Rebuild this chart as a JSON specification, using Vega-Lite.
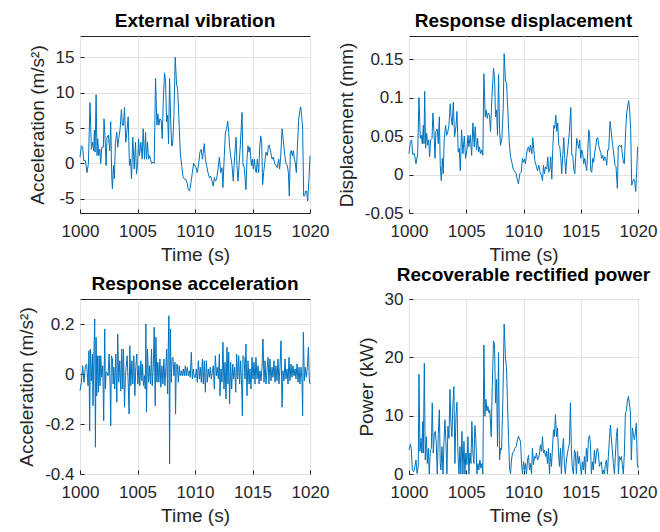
{
  "$schema": "https://vega.github.io/schema/vega-lite/v6.json",
  "padding": {"left": 17, "top": 11, "right": 0, "bottom": 0},
  "background": "white",
  "config": {
    "font": "Liberation Sans",
    "view": {"stroke": "#262626", "strokeWidth": 1},
    "axis": {"domain": false, "grid": true, "gridColor": "#e2e2e2", "gridWidth": 1, "labelFontSize": 17, "labelColor": "#262626", "titleFontSize": 19, "titleFontWeight": "normal", "titleColor": "#262626", "ticks": true, "tickSize": -4, "tickColor": "#262626", "labelFlush": false, "labelOverlap": false, "labelExpr": "'' + datum.value"},
    "axisX": {"labelPadding": 14, "titlePadding": 6},
    "axisY": {"labelPadding": 10, "titlePadding": 8},
    "title": {"fontSize": 19, "fontWeight": "bold", "color": "#000000", "offset": 5, "frame": "group"}
  },
  "datasets": {
    "ext": [
      {"t":1000.00,"v":0.9},{"t":1000.12,"v":2.5},{"t":1000.23,"v":2.3},{"t":1000.32,"v":0.4},{"t":1000.47,"v":0.4},{"t":1000.61,"v":-1.3},{"t":1000.73,"v":0},{"t":1000.87,"v":8.6},{"t":1000.99,"v":2.0},{"t":1001.10,"v":3.0},{"t":1001.19,"v":1.8},{"t":1001.25,"v":4.7},{"t":1001.31,"v":1.6},{"t":1001.40,"v":9.7},{"t":1001.48,"v":1.1},{"t":1001.54,"v":3.5},{"t":1001.63,"v":1.1},{"t":1001.72,"v":2.0},{"t":1001.80,"v":0},{"t":1001.89,"v":2.3},{"t":1002.03,"v":2.3},{"t":1002.09,"v":6.3},{"t":1002.18,"v":3.5},{"t":1002.27,"v":-0.3},{"t":1002.35,"v":3.7},{"t":1002.47,"v":4.0},{"t":1002.59,"v":1.8},{"t":1002.67,"v":5.9},{"t":1002.76,"v":-1.8},{"t":1002.82,"v":-3.6},{"t":1002.91,"v":-0.3},{"t":1002.99,"v":-2.2},{"t":1003.08,"v":3.0},{"t":1003.20,"v":4.4},{"t":1003.28,"v":2.3},{"t":1003.37,"v":3.5},{"t":1003.49,"v":4.9},{"t":1003.60,"v":7.6},{"t":1003.69,"v":5.4},{"t":1003.78,"v":5.4},{"t":1003.87,"v":7.9},{"t":1003.98,"v":3.0},{"t":1004.10,"v":4.9},{"t":1004.19,"v":6.6},{"t":1004.30,"v":-0.3},{"t":1004.39,"v":0.6},{"t":1004.48,"v":-2.2},{"t":1004.59,"v":3.7},{"t":1004.71,"v":-0.8},{"t":1004.83,"v":3.0},{"t":1004.91,"v":-1.5},{"t":1005.00,"v":-0.3},{"t":1005.09,"v":3.5},{"t":1005.17,"v":1.1},{"t":1005.29,"v":3.0},{"t":1005.41,"v":0.6},{"t":1005.49,"v":4.9},{"t":1005.61,"v":0.6},{"t":1005.70,"v":4.4},{"t":1005.78,"v":0.6},{"t":1005.87,"v":3.0},{"t":1005.96,"v":0.6},{"t":1006.05,"v":1.1},{"t":1006.13,"v":0.6},{"t":1006.22,"v":0},{"t":1006.34,"v":0.2},{"t":1006.45,"v":0},{"t":1006.57,"v":12.0},{"t":1006.69,"v":5.4},{"t":1006.77,"v":7.0},{"t":1006.86,"v":5.4},{"t":1006.95,"v":6.3},{"t":1007.06,"v":6.1},{"t":1007.15,"v":3.5},{"t":1007.24,"v":8.7},{"t":1007.35,"v":12.8},{"t":1007.44,"v":11.6},{"t":1007.53,"v":5.9},{"t":1007.62,"v":6.8},{"t":1007.70,"v":2.8},{"t":1007.79,"v":12.0},{"t":1007.88,"v":6.3},{"t":1007.97,"v":2.5},{"t":1008.05,"v":2.5},{"t":1008.17,"v":6.8},{"t":1008.28,"v":15.0},{"t":1008.40,"v":11.1},{"t":1008.49,"v":10.6},{"t":1008.60,"v":6.3},{"t":1008.72,"v":1.6},{"t":1008.84,"v":-0.3},{"t":1008.95,"v":-1.8},{"t":1009.07,"v":-2.2},{"t":1009.19,"v":-2.2},{"t":1009.30,"v":-2.7},{"t":1009.42,"v":-3.7},{"t":1009.53,"v":-3.9},{"t":1009.65,"v":-2.7},{"t":1009.77,"v":-1.3},{"t":1009.88,"v":0},{"t":1010.09,"v":-0.6},{"t":1010.20,"v":-1.3},{"t":1010.32,"v":0},{"t":1010.43,"v":1.6},{"t":1010.55,"v":2.0},{"t":1010.64,"v":0.6},{"t":1010.72,"v":1.6},{"t":1010.81,"v":2.8},{"t":1010.90,"v":0.6},{"t":1011.01,"v":-0.3},{"t":1011.13,"v":-1.3},{"t":1011.25,"v":-2.0},{"t":1011.36,"v":-1.8},{"t":1011.48,"v":-2.5},{"t":1011.59,"v":-3.2},{"t":1011.68,"v":-2.0},{"t":1011.77,"v":-2.5},{"t":1011.88,"v":-2.2},{"t":1012.00,"v":-0.8},{"t":1012.12,"v":0.9},{"t":1012.23,"v":-1.3},{"t":1012.35,"v":-0.6},{"t":1012.43,"v":-3.4},{"t":1012.52,"v":0.1},{"t":1012.64,"v":4.4},{"t":1012.75,"v":4.9},{"t":1012.84,"v":6.0},{"t":1012.93,"v":4.4},{"t":1013.01,"v":2.3},{"t":1013.10,"v":1.1},{"t":1013.22,"v":-0.3},{"t":1013.33,"v":-2.5},{"t":1013.45,"v":1.1},{"t":1013.57,"v":3.7},{"t":1013.65,"v":-0.3},{"t":1013.74,"v":-2.5},{"t":1013.83,"v":-0.3},{"t":1013.94,"v":2.5},{"t":1014.09,"v":7.2},{"t":1014.17,"v":-0.3},{"t":1014.26,"v":-0.3},{"t":1014.35,"v":-2.0},{"t":1014.43,"v":-3.7},{"t":1014.52,"v":0.6},{"t":1014.61,"v":2.5},{"t":1014.70,"v":1.6},{"t":1014.78,"v":2.3},{"t":1014.90,"v":-0.3},{"t":1014.99,"v":0.6},{"t":1015.07,"v":-0.8},{"t":1015.16,"v":0.6},{"t":1015.25,"v":-0.8},{"t":1015.33,"v":-1.3},{"t":1015.42,"v":0.6},{"t":1015.54,"v":-1.3},{"t":1015.62,"v":2.0},{"t":1015.71,"v":3.9},{"t":1015.80,"v":3.0},{"t":1015.88,"v":-3.0},{"t":1015.97,"v":-1.3},{"t":1016.06,"v":0},{"t":1016.17,"v":1.6},{"t":1016.29,"v":1.1},{"t":1016.38,"v":2.5},{"t":1016.46,"v":2.6},{"t":1016.58,"v":1.6},{"t":1016.70,"v":0.6},{"t":1016.81,"v":0.9},{"t":1016.93,"v":0},{"t":1017.04,"v":-0.3},{"t":1017.16,"v":-0.6},{"t":1017.28,"v":0.6},{"t":1017.36,"v":-0.8},{"t":1017.45,"v":0.9},{"t":1017.57,"v":4.9},{"t":1017.68,"v":3.2},{"t":1017.80,"v":1.3},{"t":1017.91,"v":0},{"t":1018.03,"v":-0.3},{"t":1018.12,"v":-1.3},{"t":1018.20,"v":-4.6},{"t":1018.29,"v":1.6},{"t":1018.38,"v":1.8},{"t":1018.46,"v":1.1},{"t":1018.55,"v":1.8},{"t":1018.64,"v":0.6},{"t":1018.72,"v":0.1},{"t":1018.81,"v":-1.3},{"t":1018.93,"v":3.2},{"t":1019.01,"v":6.1},{"t":1019.10,"v":7.3},{"t":1019.19,"v":8.0},{"t":1019.28,"v":6.6},{"t":1019.36,"v":4.9},{"t":1019.45,"v":-4.6},{"t":1019.54,"v":-4.6},{"t":1019.62,"v":-3.9},{"t":1019.71,"v":-3.9},{"t":1019.80,"v":-5.3},{"t":1019.91,"v":-2.2},{"t":1020.00,"v":1.1}
    ],
    "disp": [
      {"t":1000.00,"v":0.027},{"t":1000.12,"v":0.043},{"t":1000.23,"v":0.045},{"t":1000.32,"v":0.026},{"t":1000.47,"v":0.027},{"t":1000.61,"v":0.014},{"t":1000.76,"v":0.027},{"t":1000.87,"v":0.100},{"t":1000.99,"v":0.047},{"t":1001.08,"v":0.051},{"t":1001.16,"v":0.040},{"t":1001.25,"v":0.064},{"t":1001.31,"v":0.040},{"t":1001.37,"v":0.108},{"t":1001.45,"v":0.034},{"t":1001.54,"v":0.054},{"t":1001.63,"v":0.038},{"t":1001.72,"v":0.045},{"t":1001.80,"v":0.023},{"t":1001.89,"v":0.045},{"t":1002.01,"v":0.047},{"t":1002.09,"v":0.080},{"t":1002.18,"v":0.056},{"t":1002.27,"v":0.021},{"t":1002.35,"v":0.056},{"t":1002.47,"v":0.059},{"t":1002.56,"v":0.040},{"t":1002.65,"v":0.075},{"t":1002.73,"v":0.012},{"t":1002.82,"v":-0.008},{"t":1002.91,"v":0.021},{"t":1002.99,"v":0.001},{"t":1003.08,"v":0.047},{"t":1003.20,"v":0.064},{"t":1003.28,"v":0.051},{"t":1003.37,"v":0.054},{"t":1003.49,"v":0.064},{"t":1003.60,"v":0.092},{"t":1003.69,"v":0.073},{"t":1003.78,"v":0.064},{"t":1003.87,"v":0.094},{"t":1003.98,"v":0.049},{"t":1004.10,"v":0.062},{"t":1004.19,"v":0.082},{"t":1004.30,"v":0.029},{"t":1004.39,"v":0.034},{"t":1004.48,"v":0.005},{"t":1004.59,"v":0.058},{"t":1004.71,"v":0.027},{"t":1004.83,"v":0.050},{"t":1004.94,"v":0.021},{"t":1005.06,"v":0.032},{"t":1005.15,"v":0.051},{"t":1005.23,"v":0.036},{"t":1005.35,"v":0.051},{"t":1005.47,"v":0.025},{"t":1005.58,"v":0.067},{"t":1005.70,"v":0.036},{"t":1005.78,"v":0.062},{"t":1005.90,"v":0.032},{"t":1005.99,"v":0.047},{"t":1006.08,"v":0.029},{"t":1006.16,"v":0.036},{"t":1006.25,"v":0.027},{"t":1006.37,"v":0.032},{"t":1006.45,"v":0.025},{"t":1006.54,"v":0.131},{"t":1006.66,"v":0.075},{"t":1006.74,"v":0.084},{"t":1006.83,"v":0.073},{"t":1006.92,"v":0.080},{"t":1007.03,"v":0.077},{"t":1007.12,"v":0.056},{"t":1007.24,"v":0.100},{"t":1007.38,"v":0.138},{"t":1007.47,"v":0.126},{"t":1007.56,"v":0.075},{"t":1007.65,"v":0.084},{"t":1007.73,"v":0.051},{"t":1007.82,"v":0.130},{"t":1007.91,"v":0.058},{"t":1007.99,"v":0.038},{"t":1008.11,"v":0.047},{"t":1008.23,"v":0.086},{"t":1008.31,"v":0.157},{"t":1008.43,"v":0.121},{"t":1008.52,"v":0.119},{"t":1008.63,"v":0.084},{"t":1008.75,"v":0.043},{"t":1008.87,"v":0.023},{"t":1008.98,"v":0.016},{"t":1009.10,"v":0.007},{"t":1009.22,"v":0.004},{"t":1009.33,"v":0.003},{"t":1009.45,"v":-0.006},{"t":1009.56,"v":-0.012},{"t":1009.68,"v":0.001},{"t":1009.80,"v":0.003},{"t":1009.91,"v":0.021},{"t":1010.00,"v":0.016},{"t":1010.09,"v":0.020},{"t":1010.17,"v":0.014},{"t":1010.26,"v":0.025},{"t":1010.35,"v":0.034},{"t":1010.44,"v":0.036},{"t":1010.52,"v":0.029},{"t":1010.61,"v":0.038},{"t":1010.73,"v":0.027},{"t":1010.81,"v":0.048},{"t":1010.90,"v":0.032},{"t":1010.99,"v":0.018},{"t":1011.10,"v":0.012},{"t":1011.22,"v":0.005},{"t":1011.34,"v":0.012},{"t":1011.45,"v":0.003},{"t":1011.57,"v":-0.001},{"t":1011.66,"v":-0.008},{"t":1011.74,"v":0.012},{"t":1011.83,"v":0.001},{"t":1011.92,"v":0.010},{"t":1012.03,"v":0.007},{"t":1012.12,"v":0.023},{"t":1012.21,"v":0.003},{"t":1012.30,"v":0.007},{"t":1012.38,"v":0.023},{"t":1012.47,"v":-0.006},{"t":1012.56,"v":0.034},{"t":1012.65,"v":0.064},{"t":1012.73,"v":0.060},{"t":1012.82,"v":0.077},{"t":1012.91,"v":0.056},{"t":1012.99,"v":0.067},{"t":1013.08,"v":0.038},{"t":1013.17,"v":0.036},{"t":1013.26,"v":0.021},{"t":1013.34,"v":0.001},{"t":1013.43,"v":0.025},{"t":1013.52,"v":0.048},{"t":1013.60,"v":0.021},{"t":1013.69,"v":0.001},{"t":1013.78,"v":0.021},{"t":1013.90,"v":0.038},{"t":1014.01,"v":0.056},{"t":1014.13,"v":0.087},{"t":1014.22,"v":0.025},{"t":1014.30,"v":0.025},{"t":1014.39,"v":0.007},{"t":1014.48,"v":0.001},{"t":1014.56,"v":0.023},{"t":1014.65,"v":0.047},{"t":1014.74,"v":0.040},{"t":1014.83,"v":0.034},{"t":1014.91,"v":0.045},{"t":1015.00,"v":0.021},{"t":1015.09,"v":0.032},{"t":1015.17,"v":0.027},{"t":1015.26,"v":0.014},{"t":1015.35,"v":0.021},{"t":1015.44,"v":0.012},{"t":1015.52,"v":0.005},{"t":1015.61,"v":0.029},{"t":1015.70,"v":0.058},{"t":1015.78,"v":0.051},{"t":1015.87,"v":0.005},{"t":1015.96,"v":0.003},{"t":1016.05,"v":0.021},{"t":1016.13,"v":0.016},{"t":1016.22,"v":0.029},{"t":1016.31,"v":0.036},{"t":1016.40,"v":0.047},{"t":1016.48,"v":0.048},{"t":1016.57,"v":0.038},{"t":1016.66,"v":0.032},{"t":1016.74,"v":0.029},{"t":1016.83,"v":0.021},{"t":1016.92,"v":0.025},{"t":1017.01,"v":0.018},{"t":1017.09,"v":0.023},{"t":1017.18,"v":0.021},{"t":1017.27,"v":0.012},{"t":1017.35,"v":0.032},{"t":1017.44,"v":0.032},{"t":1017.56,"v":0.069},{"t":1017.67,"v":0.054},{"t":1017.79,"v":0.038},{"t":1017.91,"v":0.023},{"t":1017.99,"v":0.012},{"t":1018.08,"v":0.010},{"t":1018.20,"v":-0.018},{"t":1018.28,"v":0.036},{"t":1018.37,"v":0.038},{"t":1018.46,"v":0.036},{"t":1018.55,"v":0.038},{"t":1018.63,"v":0.027},{"t":1018.72,"v":0.016},{"t":1018.81,"v":0.014},{"t":1018.92,"v":0.056},{"t":1019.01,"v":0.080},{"t":1019.10,"v":0.089},{"t":1019.19,"v":0.096},{"t":1019.27,"v":0.082},{"t":1019.36,"v":0.060},{"t":1019.45,"v":-0.014},{"t":1019.53,"v":-0.010},{"t":1019.62,"v":-0.006},{"t":1019.71,"v":-0.008},{"t":1019.80,"v":-0.022},{"t":1019.88,"v":0.003},{"t":1019.97,"v":0.036}
    ],
    "racc": [
      {"t":1000.00,"v":-0.067},{"t":1000.12,"v":-0.033},{"t":1000.23,"v":0.033},{"t":1000.35,"v":-0.033},{"t":1000.47,"v":0.033},{"t":1000.58,"v":0.040},{"t":1000.70,"v":-0.047},{"t":1000.78,"v":0.093},{"t":1000.84,"v":-0.227},{"t":1000.90,"v":0.100},{"t":1000.99,"v":-0.027},{"t":1001.08,"v":0.080},{"t":1001.13,"v":-0.127},{"t":1001.22,"v":0.100},{"t":1001.28,"v":0.220},{"t":1001.34,"v":-0.293},{"t":1001.40,"v":0.147},{"t":1001.45,"v":-0.087},{"t":1001.51,"v":0.073},{"t":1001.60,"v":-0.073},{"t":1001.66,"v":0.073},{"t":1001.74,"v":-0.047},{"t":1001.80,"v":0.073},{"t":1001.89,"v":-0.013},{"t":1001.98,"v":0.033},{"t":1002.06,"v":-0.187},{"t":1002.15,"v":0.180},{"t":1002.21,"v":-0.060},{"t":1002.27,"v":0.007},{"t":1002.35,"v":0.007},{"t":1002.44,"v":-0.007},{"t":1002.53,"v":0.080},{"t":1002.62,"v":-0.047},{"t":1002.67,"v":-0.207},{"t":1002.73,"v":0.073},{"t":1002.82,"v":0.060},{"t":1002.88,"v":-0.040},{"t":1002.94,"v":0.027},{"t":1003.02,"v":-0.060},{"t":1003.11,"v":0.080},{"t":1003.20,"v":-0.113},{"t":1003.28,"v":0.160},{"t":1003.37,"v":-0.033},{"t":1003.46,"v":0.053},{"t":1003.55,"v":-0.067},{"t":1003.63,"v":0.100},{"t":1003.72,"v":-0.060},{"t":1003.78,"v":0.100},{"t":1003.87,"v":-0.133},{"t":1003.95,"v":-0.007},{"t":1004.01,"v":0.027},{"t":1004.10,"v":0.073},{"t":1004.19,"v":-0.033},{"t":1004.27,"v":-0.160},{"t":1004.33,"v":0.113},{"t":1004.42,"v":-0.047},{"t":1004.51,"v":0.053},{"t":1004.59,"v":-0.040},{"t":1004.68,"v":0.073},{"t":1004.77,"v":-0.087},{"t":1004.85,"v":0.027},{"t":1004.94,"v":0.080},{"t":1005.03,"v":-0.040},{"t":1005.12,"v":0.033},{"t":1005.20,"v":-0.047},{"t":1005.29,"v":0.053},{"t":1005.38,"v":-0.027},{"t":1005.44,"v":0.040},{"t":1005.52,"v":-0.047},{"t":1005.61,"v":-0.007},{"t":1005.67,"v":-0.060},{"t":1005.73,"v":0.200},{"t":1005.78,"v":-0.153},{"t":1005.87,"v":0.100},{"t":1005.96,"v":-0.033},{"t":1006.05,"v":0.033},{"t":1006.13,"v":-0.040},{"t":1006.22,"v":0.100},{"t":1006.28,"v":-0.047},{"t":1006.37,"v":0.027},{"t":1006.45,"v":0.187},{"t":1006.54,"v":-0.127},{"t":1006.60,"v":0.147},{"t":1006.69,"v":-0.033},{"t":1006.77,"v":0.047},{"t":1006.86,"v":-0.033},{"t":1006.95,"v":0.060},{"t":1007.03,"v":-0.053},{"t":1007.12,"v":0.033},{"t":1007.21,"v":-0.040},{"t":1007.30,"v":0.060},{"t":1007.38,"v":-0.047},{"t":1007.47,"v":0.027},{"t":1007.53,"v":0.100},{"t":1007.62,"v":-0.080},{"t":1007.67,"v":0.100},{"t":1007.73,"v":0.233},{"t":1007.79,"v":-0.360},{"t":1007.85,"v":0.180},{"t":1007.94,"v":-0.033},{"t":1008.00,"v":0.060},{"t":1008.08,"v":0.067},{"t":1008.17,"v":-0.007},{"t":1008.26,"v":0.047},{"t":1008.31,"v":-0.160},{"t":1008.37,"v":0.033},{"t":1008.46,"v":0.040},{"t":1008.55,"v":-0.033},{"t":1008.63,"v":0.033},{"t":1008.72,"v":-0.007},{"t":1008.81,"v":0.013},{"t":1008.90,"v":-0.007},{"t":1008.98,"v":0.020},{"t":1009.07,"v":-0.007},{"t":1009.16,"v":0.033},{"t":1009.24,"v":-0.007},{"t":1009.33,"v":0.027},{"t":1009.42,"v":-0.007},{"t":1009.51,"v":0.013},{"t":1009.59,"v":-0.013},{"t":1009.68,"v":0.087},{"t":1009.77,"v":-0.020},{"t":1009.85,"v":0.020},{"t":1009.94,"v":-0.013},{"t":1010.03,"v":-0.013},{"t":1010.12,"v":0.020},{"t":1010.20,"v":-0.033},{"t":1010.29,"v":0.053},{"t":1010.38,"v":-0.020},{"t":1010.46,"v":0.027},{"t":1010.55,"v":-0.033},{"t":1010.64,"v":0.060},{"t":1010.72,"v":-0.040},{"t":1010.81,"v":0.053},{"t":1010.90,"v":-0.073},{"t":1010.99,"v":0.053},{"t":1011.07,"v":-0.033},{"t":1011.16,"v":0.020},{"t":1011.25,"v":-0.013},{"t":1011.33,"v":0.027},{"t":1011.42,"v":-0.020},{"t":1011.51,"v":0.013},{"t":1011.59,"v":0.033},{"t":1011.68,"v":-0.060},{"t":1011.77,"v":0.073},{"t":1011.86,"v":-0.007},{"t":1011.94,"v":0.027},{"t":1012.03,"v":-0.020},{"t":1012.12,"v":0.080},{"t":1012.17,"v":-0.087},{"t":1012.26,"v":0.020},{"t":1012.35,"v":-0.033},{"t":1012.43,"v":0.127},{"t":1012.52,"v":-0.060},{"t":1012.61,"v":0.047},{"t":1012.70,"v":-0.100},{"t":1012.78,"v":0.107},{"t":1012.87,"v":-0.040},{"t":1012.93,"v":0.087},{"t":1013.01,"v":-0.120},{"t":1013.10,"v":0.047},{"t":1013.19,"v":-0.060},{"t":1013.28,"v":0.040},{"t":1013.36,"v":-0.020},{"t":1013.45,"v":0.027},{"t":1013.54,"v":-0.073},{"t":1013.62,"v":0.080},{"t":1013.71,"v":-0.020},{"t":1013.80,"v":0.073},{"t":1013.88,"v":-0.040},{"t":1013.97,"v":0.053},{"t":1014.06,"v":-0.053},{"t":1014.12,"v":-0.167},{"t":1014.17,"v":0.073},{"t":1014.26,"v":0.067},{"t":1014.35,"v":-0.020},{"t":1014.43,"v":0.120},{"t":1014.52,"v":-0.087},{"t":1014.61,"v":0.053},{"t":1014.70,"v":-0.040},{"t":1014.78,"v":0.020},{"t":1014.87,"v":-0.060},{"t":1014.96,"v":0.067},{"t":1015.04,"v":-0.020},{"t":1015.13,"v":0.047},{"t":1015.22,"v":-0.040},{"t":1015.30,"v":0.067},{"t":1015.39,"v":-0.020},{"t":1015.48,"v":0.033},{"t":1015.57,"v":-0.040},{"t":1015.65,"v":0.013},{"t":1015.74,"v":-0.027},{"t":1015.83,"v":0.027},{"t":1015.91,"v":0.140},{"t":1016.00,"v":-0.033},{"t":1016.09,"v":0.053},{"t":1016.17,"v":-0.040},{"t":1016.26,"v":0.013},{"t":1016.35,"v":0.067},{"t":1016.43,"v":-0.040},{"t":1016.52,"v":0.060},{"t":1016.61,"v":-0.027},{"t":1016.70,"v":0.027},{"t":1016.78,"v":-0.013},{"t":1016.87,"v":0.053},{"t":1016.96,"v":-0.033},{"t":1017.04,"v":0.033},{"t":1017.13,"v":-0.027},{"t":1017.22,"v":0.060},{"t":1017.30,"v":-0.040},{"t":1017.39,"v":0.027},{"t":1017.48,"v":0.133},{"t":1017.57,"v":-0.133},{"t":1017.65,"v":0.013},{"t":1017.74,"v":-0.027},{"t":1017.83,"v":0.060},{"t":1017.91,"v":-0.020},{"t":1018.00,"v":0.020},{"t":1018.09,"v":-0.040},{"t":1018.17,"v":0.067},{"t":1018.26,"v":-0.027},{"t":1018.35,"v":0.040},{"t":1018.43,"v":-0.013},{"t":1018.52,"v":0.033},{"t":1018.61,"v":-0.007},{"t":1018.70,"v":0.020},{"t":1018.78,"v":-0.020},{"t":1018.87,"v":0.040},{"t":1018.96,"v":-0.033},{"t":1019.04,"v":0.027},{"t":1019.13,"v":-0.040},{"t":1019.22,"v":0.027},{"t":1019.30,"v":-0.020},{"t":1019.36,"v":-0.167},{"t":1019.42,"v":0.167},{"t":1019.51,"v":-0.027},{"t":1019.59,"v":0.027},{"t":1019.68,"v":-0.013},{"t":1019.77,"v":0.027},{"t":1019.86,"v":0.107},{"t":1019.94,"v":-0.020},{"t":1020.00,"v":-0.040}
    ],
    "pow": [
      {"t":1000.00,"v":4.1},{"t":1000.12,"v":5.1},{"t":1000.20,"v":4.4},{"t":1000.29,"v":0.7},{"t":1000.41,"v":0.4},{"t":1000.52,"v":1.3},{"t":1000.61,"v":2.4},{"t":1000.70,"v":0.1},{"t":1000.81,"v":1.3},{"t":1000.87,"v":17.1},{"t":1000.96,"v":3.9},{"t":1001.05,"v":6.1},{"t":1001.13,"v":3.6},{"t":1001.19,"v":9.0},{"t":1001.25,"v":3.6},{"t":1001.34,"v":19.0},{"t":1001.42,"v":2.4},{"t":1001.51,"v":6.4},{"t":1001.60,"v":1.8},{"t":1001.69,"v":4.4},{"t":1001.77,"v":0},{"t":1001.86,"v":4.1},{"t":1001.95,"v":4.4},{"t":1002.03,"v":12.2},{"t":1002.12,"v":3.6},{"t":1002.21,"v":7.0},{"t":1002.30,"v":7.3},{"t":1002.38,"v":5.3},{"t":1002.47,"v":0},{"t":1002.56,"v":6.8},{"t":1002.65,"v":11.0},{"t":1002.73,"v":1.8},{"t":1002.79,"v":0.7},{"t":1002.88,"v":4.7},{"t":1002.97,"v":0},{"t":1003.05,"v":5.3},{"t":1003.14,"v":9.3},{"t":1003.23,"v":5.3},{"t":1003.31,"v":0},{"t":1003.40,"v":8.2},{"t":1003.49,"v":6.1},{"t":1003.58,"v":14.5},{"t":1003.66,"v":8.8},{"t":1003.75,"v":6.4},{"t":1003.84,"v":12.2},{"t":1003.92,"v":15.0},{"t":1004.01,"v":1.8},{"t":1004.10,"v":9.9},{"t":1004.19,"v":12.3},{"t":1004.27,"v":3.6},{"t":1004.36,"v":0},{"t":1004.45,"v":4.7},{"t":1004.53,"v":0},{"t":1004.62,"v":7.3},{"t":1004.71,"v":0},{"t":1004.80,"v":5.6},{"t":1004.88,"v":0},{"t":1004.97,"v":3.6},{"t":1005.06,"v":1.6},{"t":1005.15,"v":6.4},{"t":1005.23,"v":0},{"t":1005.32,"v":3.6},{"t":1005.41,"v":1.8},{"t":1005.49,"v":9.0},{"t":1005.58,"v":3.6},{"t":1005.67,"v":1.8},{"t":1005.76,"v":8.3},{"t":1005.84,"v":5.9},{"t":1005.93,"v":0},{"t":1006.02,"v":1.8},{"t":1006.10,"v":0.7},{"t":1006.19,"v":2.4},{"t":1006.28,"v":1.0},{"t":1006.37,"v":1.8},{"t":1006.45,"v":0},{"t":1006.54,"v":22.1},{"t":1006.63,"v":9.9},{"t":1006.72,"v":12.8},{"t":1006.80,"v":10.8},{"t":1006.89,"v":11.6},{"t":1006.98,"v":10.5},{"t":1007.06,"v":11.0},{"t":1007.18,"v":6.4},{"t":1007.27,"v":15.0},{"t":1007.38,"v":22.8},{"t":1007.47,"v":22.2},{"t":1007.56,"v":12.2},{"t":1007.65,"v":16.2},{"t":1007.73,"v":4.7},{"t":1007.82,"v":20.8},{"t":1007.91,"v":2.4},{"t":1007.99,"v":4.4},{"t":1008.08,"v":4.1},{"t":1008.20,"v":12.8},{"t":1008.31,"v":25.7},{"t":1008.43,"v":19.7},{"t":1008.52,"v":18.2},{"t":1008.60,"v":12.2},{"t":1008.69,"v":6.4},{"t":1008.78,"v":1.0},{"t":1008.87,"v":0},{"t":1008.95,"v":2.4},{"t":1009.04,"v":3.6},{"t":1009.16,"v":3.9},{"t":1009.24,"v":4.4},{"t":1009.36,"v":4.7},{"t":1009.48,"v":5.9},{"t":1009.56,"v":6.5},{"t":1009.65,"v":6.0},{"t":1009.74,"v":5.6},{"t":1009.83,"v":1.8},{"t":1009.91,"v":0},{"t":1010.00,"v":2.1},{"t":1010.09,"v":0.7},{"t":1010.17,"v":1.8},{"t":1010.26,"v":0},{"t":1010.35,"v":2.4},{"t":1010.44,"v":3.2},{"t":1010.52,"v":0.7},{"t":1010.61,"v":1.8},{"t":1010.70,"v":0},{"t":1010.78,"v":4.4},{"t":1010.87,"v":1.6},{"t":1010.96,"v":3.0},{"t":1011.05,"v":2.7},{"t":1011.13,"v":3.6},{"t":1011.22,"v":2.4},{"t":1011.31,"v":2.7},{"t":1011.40,"v":3.6},{"t":1011.48,"v":5.0},{"t":1011.57,"v":3.9},{"t":1011.66,"v":6.4},{"t":1011.74,"v":3.6},{"t":1011.83,"v":4.1},{"t":1011.92,"v":3.0},{"t":1012.01,"v":3.9},{"t":1012.09,"v":1.8},{"t":1012.18,"v":4.4},{"t":1012.27,"v":0},{"t":1012.35,"v":3.6},{"t":1012.44,"v":1.3},{"t":1012.53,"v":4.4},{"t":1012.62,"v":7.6},{"t":1012.70,"v":6.4},{"t":1012.79,"v":10.2},{"t":1012.88,"v":6.4},{"t":1012.97,"v":7.9},{"t":1013.05,"v":3.9},{"t":1013.14,"v":1.3},{"t":1013.23,"v":4.4},{"t":1013.31,"v":0},{"t":1013.40,"v":4.1},{"t":1013.49,"v":6.1},{"t":1013.58,"v":1.3},{"t":1013.66,"v":0},{"t":1013.75,"v":2.4},{"t":1013.84,"v":3.6},{"t":1013.92,"v":4.4},{"t":1014.01,"v":5.3},{"t":1014.10,"v":12.2},{"t":1014.19,"v":3.6},{"t":1014.27,"v":1.0},{"t":1014.36,"v":0},{"t":1014.45,"v":4.1},{"t":1014.53,"v":3.6},{"t":1014.62,"v":0},{"t":1014.71,"v":3.9},{"t":1014.80,"v":1.8},{"t":1014.88,"v":3.0},{"t":1014.97,"v":1.3},{"t":1015.06,"v":0},{"t":1015.15,"v":2.1},{"t":1015.23,"v":0.7},{"t":1015.32,"v":3.0},{"t":1015.41,"v":0},{"t":1015.49,"v":4.4},{"t":1015.58,"v":2.1},{"t":1015.67,"v":5.9},{"t":1015.76,"v":6.6},{"t":1015.84,"v":5.3},{"t":1015.93,"v":0},{"t":1016.02,"v":2.1},{"t":1016.10,"v":0.7},{"t":1016.19,"v":4.1},{"t":1016.28,"v":1.8},{"t":1016.37,"v":3.6},{"t":1016.45,"v":4.4},{"t":1016.54,"v":3.6},{"t":1016.63,"v":1.3},{"t":1016.72,"v":1.8},{"t":1016.80,"v":2.1},{"t":1016.89,"v":0},{"t":1016.98,"v":0.7},{"t":1017.06,"v":0},{"t":1017.15,"v":1.6},{"t":1017.24,"v":2.4},{"t":1017.33,"v":0},{"t":1017.41,"v":3.0},{"t":1017.50,"v":5.9},{"t":1017.59,"v":8.4},{"t":1017.67,"v":6.1},{"t":1017.76,"v":4.1},{"t":1017.85,"v":1.8},{"t":1017.94,"v":0},{"t":1018.02,"v":3.0},{"t":1018.11,"v":6.4},{"t":1018.20,"v":7.9},{"t":1018.29,"v":0},{"t":1018.37,"v":3.0},{"t":1018.46,"v":2.4},{"t":1018.55,"v":3.0},{"t":1018.63,"v":1.6},{"t":1018.72,"v":0},{"t":1018.81,"v":3.6},{"t":1018.90,"v":10.5},{"t":1018.98,"v":10.8},{"t":1019.07,"v":12.5},{"t":1019.16,"v":13.3},{"t":1019.24,"v":12.2},{"t":1019.33,"v":10.8},{"t":1019.42,"v":2.4},{"t":1019.51,"v":7.9},{"t":1019.59,"v":7.0},{"t":1019.68,"v":5.9},{"t":1019.77,"v":7.0},{"t":1019.85,"v":8.7},{"t":1019.94,"v":1.8},{"t":1020.00,"v":1.0}
    ]
  },
  "columns": 2,
  "align": "each",
  "spacing": {"row": 0, "column": 6},
  "concat": [
    {
      "width": 230, "height": 177,
      "title": "External vibration",
      "data": {"name": "ext"},
      "mark": {"type": "line", "color": "#0072BD", "strokeWidth": 1},
      "encoding": {
        "x": {"field": "t", "type": "quantitative", "scale": {"domain": [1000, 1020], "nice": false}, "axis": {"title": "Time (s)", "values": [1000, 1005, 1010, 1015, 1020]}},
        "y": {"field": "v", "type": "quantitative", "scale": {"domain": [-7, 18], "nice": false, "zero": false}, "axis": {"title": "Acceleration (m/s²)", "values": [-5, 0, 5, 10, 15]}}
      }
    },
    {
      "width": 229, "height": 177,
      "title": "Response displacement",
      "data": {"name": "disp"},
      "mark": {"type": "line", "color": "#0072BD", "strokeWidth": 1},
      "encoding": {
        "x": {"field": "t", "type": "quantitative", "scale": {"domain": [1000, 1020], "nice": false}, "axis": {"title": "Time (s)", "values": [1000, 1005, 1010, 1015, 1020]}},
        "y": {"field": "v", "type": "quantitative", "scale": {"domain": [-0.05, 0.18], "nice": false, "zero": false}, "axis": {"title": "Displacement (mm)", "values": [-0.05, 0, 0.05, 0.1, 0.15]}}
      }
    },
    {
      "width": 230, "height": 175,
      "title": "Response acceleration",
      "data": {"name": "racc"},
      "mark": {"type": "line", "color": "#0072BD", "strokeWidth": 1},
      "encoding": {
        "x": {"field": "t", "type": "quantitative", "scale": {"domain": [1000, 1020], "nice": false}, "axis": {"title": "Time (s)", "values": [1000, 1005, 1010, 1015, 1020]}},
        "y": {"field": "v", "type": "quantitative", "scale": {"domain": [-0.4, 0.3], "nice": false, "zero": false}, "axis": {"title": "Acceleration (m/s²)", "values": [-0.4, -0.2, 0, 0.2]}}
      }
    },
    {
      "width": 229, "height": 175,
      "title": "Recoverable rectified power",
      "data": {"name": "pow"},
      "mark": {"type": "line", "color": "#0072BD", "strokeWidth": 1},
      "encoding": {
        "x": {"field": "t", "type": "quantitative", "scale": {"domain": [1000, 1020], "nice": false}, "axis": {"title": "Time (s)", "values": [1000, 1005, 1010, 1015, 1020]}},
        "y": {"field": "v", "type": "quantitative", "scale": {"domain": [0, 30], "nice": false}, "axis": {"title": "Power (kW)", "values": [0, 10, 20, 30]}}
      }
    }
  ]
}
